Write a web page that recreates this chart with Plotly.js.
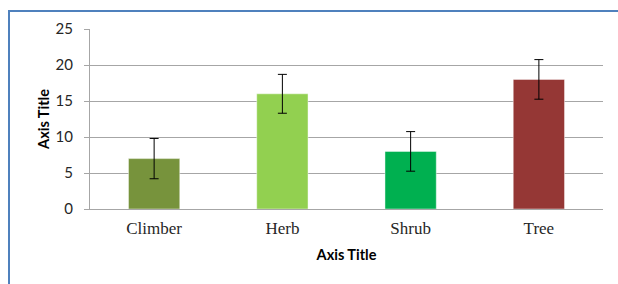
<!DOCTYPE html>
<html>
<head>
<meta charset="utf-8">
<script src="https://cdn.plot.ly/plotly-3.0.1.min.js"></script>
<style>
  html, body { margin: 0; padding: 0; background: #fff; }
  #chart { position: absolute; left: 0; top: 0; width: 618px; height: 284px; }
  #frame { position: absolute; left: 8px; top: 10px; width: 620px; height: 290px;
           border-left: 2px solid #4F81BD; border-top: 2px solid #4F81BD; pointer-events: none; }
</style>
</head>
<body>
<div id="chart"></div>
<div id="frame"></div>
<script>
const categories = ["Climber", "Herb", "Shrub", "Tree"];
const values = [7, 16, 8, 18];
const errors = [2.8, 2.7, 2.75, 2.75];
const barColors = ["#77933C", "#92D050", "#00B050", "#953735"];
const yTickVals = [0, 5, 10, 15, 20, 25];

const trace = {
  type: "bar",
  x: categories,
  y: values,
  marker: { color: barColors, line: { color: "rgba(255,255,255,0.45)", width: 1 } },
  error_y: { type: "data", array: errors, visible: true, color: "#000", thickness: 1, width: 4.5 },
  hoverinfo: "none"
};

const layout = {
  width: 618, height: 284,
  margin: { l: 90, r: 15, t: 29, b: 75 },
  paper_bgcolor: "#fff", plot_bgcolor: "#fff",
  showlegend: false,
  bargap: 0.6,
  xaxis: {
    type: "category",
    showgrid: false, showline: true, linecolor: "#A6A6A6", linewidth: 1,
    ticks: "", zeroline: false,
    tickfont: { family: "Liberation Serif, Times New Roman, serif", size: 17, color: "#262626" },
    ticklabelstandoff: 4,
    title: { text: "Axis Title", font: { family: "Lato, sans-serif", size: 14.5, color: "#000", weight: "bold" }, standoff: 12 }
  },
  yaxis: {
    range: [0, 25], tickvals: yTickVals, ticktext: yTickVals.map(String),
    showgrid: true, gridcolor: "#A6A6A6", gridwidth: 1,
    showline: true, linecolor: "#A6A6A6", linewidth: 1,
    ticks: "outside", ticklen: 5, tickcolor: "#A6A6A6",
    zeroline: false,
    tickfont: { family: "Lato, sans-serif", size: 15, color: "#262626" },
    ticklabelstandoff: 8,
    title: { text: "Axis Title", font: { family: "Lato, sans-serif", size: 14.5, color: "#000", weight: "bold" }, standoff: 2 }
  }
};

Plotly.newPlot("chart", [trace], layout, { staticPlot: true, displayModeBar: false });
</script>
</body>
</html>
